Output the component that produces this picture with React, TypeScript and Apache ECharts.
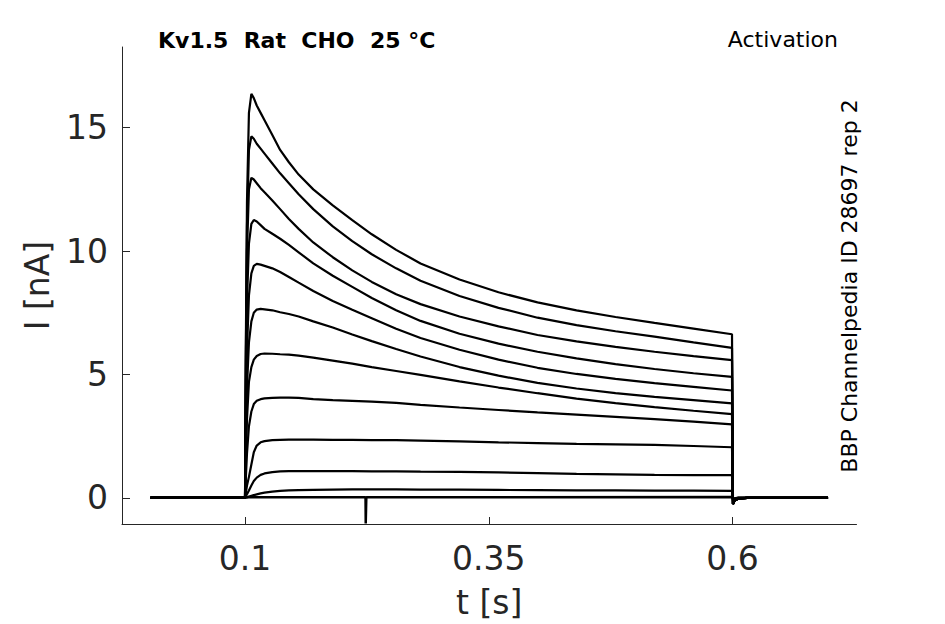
import React, { useEffect, useRef } from "react";
import * as echarts from "echarts";

// sample times [s] shared by the sweeps
const time = [0.003, 0.1, 0.1008, 0.102, 0.104, 0.1065, 0.109, 0.112, 0.116, 0.12, 0.128, 0.136, 0.145, 0.155, 0.17, 0.19, 0.21, 0.23, 0.255, 0.28, 0.32, 0.36, 0.40, 0.44, 0.48, 0.52, 0.56, 0.5995, 0.6005, 0.602, 0.606, 0.615, 0.698];

// currents [nA]
const sweep1 = [0, 0, 6, 12, 15.6, 16.37, 16.2, 15.9, 15.6, 15.3, 14.7, 14.1, 13.6, 13.1, 12.5, 11.85, 11.25, 10.68, 10.05, 9.5, 8.85, 8.33, 7.92, 7.6, 7.33, 7.09, 6.86, 6.63, -0.25, -0.12, -0.03, 0, 0];
const sweep2 = [0, 0, 5.5, 11, 14.1, 14.65, 14.55, 14.35, 14.15, 13.95, 13.55, 13.15, 12.75, 12.3, 11.7, 11.0, 10.4, 9.87, 9.3, 8.8, 8.18, 7.7, 7.3, 7.0, 6.75, 6.53, 6.3, 6.08, -0.25, -0.12, -0.03, 0, 0];
const sweep3 = [0, 0, 5, 10, 12.5, 12.97, 12.9, 12.75, 12.55, 12.38, 12.05, 11.7, 11.3, 10.9, 10.35, 9.75, 9.22, 8.75, 8.25, 7.85, 7.35, 6.95, 6.6, 6.34, 6.12, 5.92, 5.74, 5.58, -0.25, -0.12, -0.03, 0, 0];
const sweep4 = [0, 0, 4, 8, 10.3, 11.1, 11.26, 11.2, 11.05, 10.9, 10.7, 10.5, 10.25, 9.95, 9.5, 9.0, 8.55, 8.1, 7.6, 7.17, 6.65, 6.25, 5.92, 5.65, 5.42, 5.22, 5.05, 4.9, -0.25, -0.12, -0.03, 0, 0];
const sweep5 = [0, 0, 3, 6, 8.2, 9.1, 9.4, 9.48, 9.45, 9.4, 9.3, 9.15, 8.95, 8.72, 8.38, 7.98, 7.62, 7.28, 6.85, 6.48, 6.0, 5.6, 5.27, 5.02, 4.82, 4.65, 4.5, 4.35, -0.25, -0.12, -0.03, 0, 0];
const sweep6 = [0, 0, 2.2, 4.5, 6.3, 7.15, 7.5, 7.63, 7.66, 7.64, 7.6, 7.52, 7.45, 7.35, 7.15, 6.9, 6.62, 6.35, 6.03, 5.73, 5.3, 4.95, 4.66, 4.43, 4.24, 4.09, 3.96, 3.83, -0.25, -0.12, -0.03, 0, 0];
const sweep7 = [0, 0, 1.5, 3.2, 4.7, 5.3, 5.6, 5.75, 5.83, 5.85, 5.84, 5.82, 5.8, 5.76, 5.68, 5.56, 5.44, 5.3, 5.14, 4.98, 4.72, 4.47, 4.24, 4.02, 3.84, 3.68, 3.53, 3.39, -0.25, -0.12, -0.03, 0, 0];
const sweep8 = [0, 0, 0.8, 1.8, 2.9, 3.5, 3.8, 3.93, 4.0, 4.03, 4.05, 4.06, 4.06, 4.05, 4.0, 3.96, 3.93, 3.9, 3.85, 3.77, 3.66, 3.56, 3.46, 3.37, 3.28, 3.19, 3.09, 2.98, -0.22, -0.1, -0.02, 0, 0];
const sweep9 = [0, 0, 0.2, 0.5, 0.85, 1.35, 1.85, 2.12, 2.25, 2.3, 2.34, 2.35, 2.36, 2.36, 2.36, 2.35, 2.35, 2.34, 2.34, 2.32, 2.29, 2.25, 2.22, 2.19, 2.17, 2.15, 2.1, 2.05, -0.15, -0.06, -0.01, 0, 0];
const sweep10 = [0, 0, 0.05, 0.15, 0.3, 0.5, 0.68, 0.82, 0.93, 0.99, 1.04, 1.07, 1.08, 1.08, 1.08, 1.08, 1.08, 1.07, 1.07, 1.06, 1.05, 1.03, 1.0, 0.97, 0.95, 0.93, 0.92, 0.92, -0.1, -0.04, 0, 0, 0];
const sweep11 = [0, 0, 0, 0.02, 0.05, 0.08, 0.11, 0.14, 0.18, 0.21, 0.25, 0.28, 0.3, 0.31, 0.32, 0.33, 0.34, 0.34, 0.34, 0.33, 0.33, 0.32, 0.31, 0.3, 0.3, 0.29, 0.29, 0.28, -0.05, -0.02, 0, 0, 0];

// baseline sweep with its artefact
const baseTime = [0.003, 0.2236, 0.2238, 0.2242, 0.2244, 0.6, 0.6005, 0.606, 0.698];
const baseSweep = [0.02, 0.02, -1.04, -1.04, 0.02, 0.03, -0.05, 0, 0];

const xTicks = [0.1, 0.35, 0.6];
const yTicks = [0, 5, 10, 15];

const sweeps = [sweep1, sweep2, sweep3, sweep4, sweep5, sweep6, sweep7, sweep8, sweep9, sweep10, sweep11];

const AXIS = "#262626";
const FONT = "DejaVu Sans";

export default function App() {
  const ref = useRef<HTMLDivElement>(null);
  useEffect(() => {
    document.body.style.margin = "0";
    const chart = echarts.init(ref.current!, null, { renderer: "svg" });
    const series: any[] = sweeps.map((s, k) => ({
      type: "line",
      name: "sweep" + (k + 1),
      data: time.map((t, i) => [t, s[i]]),
      showSymbol: false,
      lineStyle: { color: "#000", width: 2.2 },
      z: 3,
    }));
    series.push({
      type: "line",
      name: "baseline",
      data: baseTime.map((t, i) => [t, baseSweep[i]]),
      showSymbol: false,
      lineStyle: { color: "#000", width: 2.5 },
      z: 3,
    });
    chart.setOption({
      animation: false,
      textStyle: { fontFamily: FONT },
      grid: { left: 122, top: 47, width: 734.5, height: 479.5, containLabel: false },
      xAxis: {
        type: "value",
        min: -0.0262,
        max: 0.7272,
        axisLine: { show: true, onZero: false, lineStyle: { color: AXIS, width: 1 } },
        axisTick: { show: true, inside: true, length: 7, customValues: xTicks, lineStyle: { color: AXIS, width: 1 } },
        axisLabel: { customValues: xTicks, fontSize: 33, color: AXIS, margin: 18, fontFamily: FONT, formatter: (v: number) => String(v) },
        splitLine: { show: false },
        name: "t [s]",
        nameLocation: "middle",
        nameGap: 62,
        nameTextStyle: { fontSize: 33, color: AXIS, fontFamily: FONT },
      },
      yAxis: {
        type: "value",
        min: -1.06,
        max: 18.27,
        axisLine: { show: true, onZero: false, lineStyle: { color: AXIS, width: 1 } },
        axisTick: { show: true, inside: true, length: 8, customValues: yTicks, lineStyle: { color: AXIS, width: 1 } },
        axisLabel: { customValues: yTicks, fontSize: 33, color: AXIS, margin: 14, fontFamily: FONT, formatter: (v: number) => String(v) },
        splitLine: { show: false },
        name: "I [nA]",
        nameLocation: "middle",
        nameGap: 68,
        nameTextStyle: { fontSize: 33, color: AXIS, fontFamily: FONT },
      },
      graphic: [
        {
          type: "text",
          x: 158,
          y: 40,
          style: { text: "Kv1.5  Rat  CHO  25 °C", fontSize: 22, fontWeight: "bold", fontFamily: FONT, fill: "#000", align: "left", verticalAlign: "middle" },
        },
        {
          type: "text",
          x: 838,
          y: 39,
          style: { text: "Activation", fontSize: 22, fontFamily: FONT, fill: "#000", align: "right", verticalAlign: "middle" },
        },
        {
          type: "text",
          x: 849,
          y: 286,
          rotation: Math.PI / 2,
          style: { text: "BBP Channelpedia ID 28697 rep 2", fontSize: 22, fontFamily: FONT, fill: "#000", align: "center", verticalAlign: "middle" },
        },
      ],
      series,
    });
    return () => chart.dispose();
  }, []);
  return <div ref={ref} style={{ width: 945, height: 624 }} />;
}
